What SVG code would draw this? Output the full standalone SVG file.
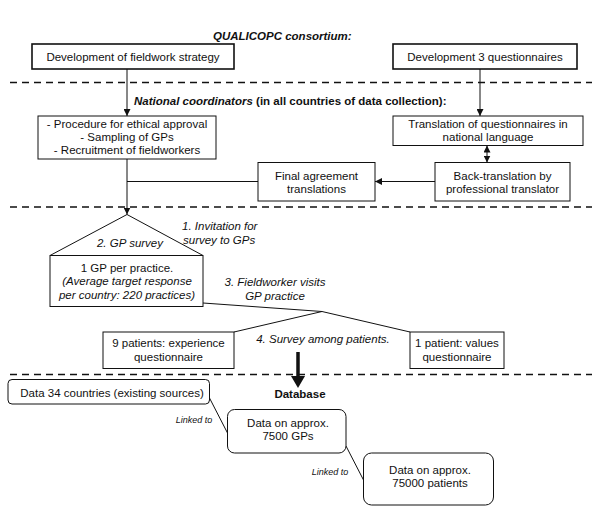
<svg xmlns="http://www.w3.org/2000/svg" width="600" height="514" viewBox="0 0 600 514">
<defs>
<style>
text{font-family:"Liberation Sans",Arial,sans-serif;font-size:11.5px;fill:#111}
.c{text-anchor:middle}
.i{font-style:italic}
.b{font-weight:bold}
.bi{font-weight:bold;font-style:italic}
.sm{font-size:9px;font-style:italic}
.box{fill:#fff;stroke:#111;stroke-width:1}
.tbox{fill:#fff;stroke:#111;stroke-width:1.6}
.ln{fill:none;stroke:#111;stroke-width:1}
.dash{fill:none;stroke:#111;stroke-width:1.5;stroke-dasharray:7 5}
</style>
<marker id="ah" viewBox="0 0 10 10" refX="10" refY="5" markerWidth="7" markerHeight="7" markerUnits="userSpaceOnUse" orient="auto-start-reverse">
<path d="M0,0 L10,5 L0,10 z" fill="#111"/>
</marker>
</defs>
<rect width="600" height="514" fill="#fff"/>

<g id="separators">
<line class="dash" x1="10" y1="82.5" x2="592" y2="82.5"/>
<line class="dash" x1="10" y1="207" x2="592" y2="207"/>
<line class="dash" x1="10" y1="374.5" x2="592" y2="374.5"/>
</g>

<g id="headings">
<text class="bi" x="213" y="40">QUALICOPC consortium:</text>
<text class="b" x="134" y="105"><tspan font-style="italic">National coordinators</tspan> (in all countries of data collection):</text>
</g>

<g id="connectors">
<line class="ln" x1="127" y1="69" x2="127" y2="116" marker-end="url(#ah)"/>
<line class="ln" x1="480" y1="69" x2="480" y2="116" marker-end="url(#ah)"/>
<line class="ln" x1="487" y1="145.5" x2="487" y2="162.5" marker-start="url(#ah)" marker-end="url(#ah)"/>
<line class="ln" x1="435" y1="181.5" x2="375" y2="181.5" marker-end="url(#ah)"/>
<line class="ln" x1="258" y1="181.5" x2="127" y2="181.5"/>
<line class="ln" x1="127" y1="159" x2="127" y2="214.5" marker-end="url(#ah)"/>
<polyline class="ln" points="203,303 322,311.5 234,332"/>
<line class="ln" x1="322" y1="311.5" x2="410" y2="332"/>
<line x1="298" y1="352" x2="298" y2="377" stroke="#111" stroke-width="3.5"/>
<path d="M291,376 L305,376 L298,388 z" fill="#111"/>
<line class="ln" x1="209.5" y1="398" x2="227.5" y2="433"/>
<line class="ln" x1="346" y1="446" x2="363.5" y2="480"/>
<text class="sm c" x="194" y="422.5">Linked to</text>
<text class="sm c" x="330" y="474.5">Linked to</text>
</g>

<g id="fieldwork-strategy">
<rect class="tbox" x="32" y="44" width="202" height="25"/>
<text class="c" x="133" y="60.5">Development of fieldwork strategy</text>
</g>

<g id="questionnaires">
<rect class="tbox" x="393" y="44" width="184" height="25"/>
<text class="c" x="485" y="60.5">Development 3 questionnaires</text>
</g>

<g id="procedures">
<rect class="box" x="38" y="116" width="178" height="43"/>
<text class="c" x="127" y="128">- Procedure for ethical approval</text>
<text class="c" x="127" y="141">- Sampling of GPs</text>
<text class="c" x="127" y="154">- Recruitment of fieldworkers</text>
</g>

<g id="translation">
<rect class="box" x="393" y="116" width="190" height="29.5"/>
<text class="c" x="488" y="127.5">Translation of questionnaires in</text>
<text class="c" x="488" y="141">national language</text>
</g>

<g id="back-translation">
<rect class="box" x="435" y="162.5" width="135" height="38.5"/>
<text class="c" x="502.5" y="180">Back-translation by</text>
<text class="c" x="502.5" y="193">professional translator</text>
</g>

<g id="final-agreement">
<rect class="box" x="258" y="162.5" width="117" height="38.5"/>
<text class="c" x="316.5" y="180">Final agreement</text>
<text class="c" x="316.5" y="193">translations</text>
</g>

<g id="gp-survey">
<path class="ln" d="M50,255.5 L127,214.5 L203,255.5"/>
<text class="i c" x="130" y="246.5">2. GP survey</text>
<text class="i" x="182" y="229.5">1. Invitation for</text>
<text class="i" x="183" y="244">survey to GPs</text>
<rect class="box" x="50" y="255.5" width="153" height="51"/>
<text class="c" x="127" y="272">1 GP per practice.</text>
<text class="i c" x="127" y="285">(Average target response</text>
<text class="i c" x="127" y="298.5">per country: 220 practices)</text>
</g>

<g id="fieldworker-visit">
<text class="i c" x="275" y="285.5">3. Fieldworker visits</text>
<text class="i c" x="275" y="300">GP practice</text>
<text class="i c" x="323" y="343">4. Survey among patients.</text>
</g>

<g id="patients-experience">
<rect class="box" x="103" y="332" width="131" height="36.5"/>
<text class="c" x="168.5" y="346.5">9 patients: experience</text>
<text class="c" x="168.5" y="361">questionnaire</text>
</g>

<g id="patient-values">
<rect class="box" x="410" y="332" width="94" height="36.5"/>
<text class="c" x="457" y="346.5">1 patient: values</text>
<text class="c" x="457" y="361">questionnaire</text>
</g>

<g id="database">
<text class="b c" x="300" y="397.5">Database</text>
</g>

<g id="data-countries">
<rect class="box" x="8" y="379.5" width="201.5" height="24.5" rx="4"/>
<text class="c" x="112" y="396.5">Data 34 countries (existing sources)</text>
</g>

<g id="data-gps">
<rect class="box" x="227.5" y="409.5" width="118.5" height="43.5" rx="7"/>
<text class="c" x="288" y="426.5">Data on approx.</text>
<text class="c" x="288" y="439.5">7500 GPs</text>
</g>

<g id="data-patients">
<rect class="box" x="363.5" y="453" width="130" height="52" rx="8"/>
<text class="c" x="430" y="473.5">Data on approx.</text>
<text class="c" x="430" y="487">75000 patients</text>
</g>
</svg>
